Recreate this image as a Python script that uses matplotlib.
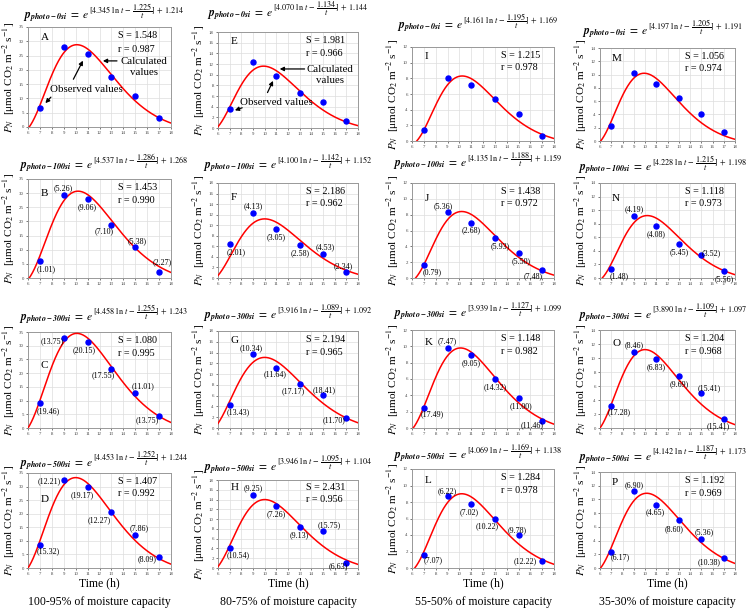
import numpy as np
import matplotlib
matplotlib.use('Agg')
import matplotlib.pyplot as plt
from matplotlib.transforms import IdentityTransform
from matplotlib.mathtext import MathTextParser

plt.rcParams['font.family'] = ['Liberation Serif', 'DejaVu Serif']
plt.rcParams['mathtext.fontset'] = 'stix'

# ---------------- data ----------------
hours = [7, 9, 11, 13, 15, 17]
panel_letters = ['A', 'B', 'C', 'D', 'E', 'F', 'G', 'H', 'I', 'J', 'K', 'L', 'M', 'N', 'O', 'P']
subscripts = ['0si', '100si', '300si', '500si'] * 4
coef_a = [4.345, 4.537, 4.458, 4.453, 4.070, 4.100, 3.916, 3.946,
          4.161, 4.135, 3.939, 4.069, 4.197, 4.228, 3.890, 4.142]
coef_b = [1.225, 1.286, 1.255, 1.252, 1.134, 1.142, 1.089, 1.095,
          1.195, 1.188, 1.127, 1.169, 1.205, 1.215, 1.109, 1.187]
coef_c = [1.214, 1.268, 1.243, 1.244, 1.144, 1.152, 1.092, 1.104,
          1.169, 1.159, 1.099, 1.138, 1.191, 1.198, 1.097, 1.173]
S_vals = [1.548, 1.453, 1.080, 1.407, 1.981, 2.186, 2.194, 2.431,
          1.215, 1.438, 1.148, 1.284, 1.056, 1.118, 1.204, 1.192]
r_vals = [0.987, 0.990, 0.995, 0.992, 0.966, 0.962, 0.965, 0.956,
          0.978, 0.972, 0.982, 0.978, 0.974, 0.973, 0.968, 0.969]
column_captions = ['100-95% of moisture capacity', '80-75% of moisture capacity',
                   '55-50% of moisture capacity', '35-30% of moisture capacity']
y_max_by_col = [35, 18, 12, 14]
y_step_by_col = [5, 2, 2, 2]

# observed PN values
obs_A = [6.8, 28.1, 25.5, 17.6, 10.9, 3.0]
obs_B = [5.9, 29.5, 27.8, 18.6, 11.0, 2.1]
obs_C = [9.2, 32.7, 31.4, 21.6, 12.9, 4.4]
obs_D = [8.6, 32.3, 29.8, 20.7, 12.3, 4.0]
obs_E = [3.5, 12.3, 9.8, 6.6, 4.9, 1.4]
obs_F = [6.4, 12.3, 9.3, 6.2, 4.6, 1.1]
obs_G = [4.2, 13.7, 11.1, 8.1, 6.1, 1.9]
obs_H = [4.1, 14.9, 12.6, 8.3, 7.6, 1.1]
obs_I = [1.4, 8.1, 7.2, 5.3, 3.5, 0.7]
obs_J = [1.6, 8.3, 7.0, 5.0, 3.1, 1.0]
obs_K = [2.5, 9.8, 8.9, 6.0, 3.7, 0.8]
obs_L = [1.6, 8.7, 7.8, 6.0, 4.0, 0.9]
obs_M = [2.2, 10.3, 8.6, 6.4, 4.1, 1.4]
obs_N = [1.3, 9.1, 7.6, 5.0, 3.4, 1.0]
obs_O = [3.2, 10.9, 9.9, 7.4, 5.0, 1.3]
obs_P = [2.3, 11.2, 9.2, 7.0, 4.3, 1.5]

# point labels (percent deviations)
lab_B = ['(1.01)', '(5.26)', '(9.06)', '(7.10)', '(5.38)', '(2.27)']
lab_C = ['(19.46)', '(13.75)', '(20.15)', '(17.55)', '(11.01)', '(13.75)']
lab_D = ['(15.32)', '(12.21)', '(19.17)', '(12.27)', '(7.86)', '(8.09)']
lab_F = ['(2.01)', '(4.13)', '(3.05)', '(2.58)', '(4.53)', '(2.34)']
lab_G = ['(13.43)', '(10.34)', '(11.64)', '(17.17)', '(18.41)', '(11.70)']
lab_H = ['(10.54)', '(9.25)', '(7.26)', '(9.13)', '(15.75)', '(6.63)']
lab_J = ['(0.79)', '(5.36)', '(2.68)', '(5.93)', '(5.50)', '(7.48)']
lab_K = ['(17.49)', '(7.47)', '(9.05)', '(14.32)', '(11.00)', '(11.46)']
lab_L = ['(7.07)', '(6.22)', '(7.02)', '(10.22)', '(9.78)', '(12.22)']
lab_N = ['(1.48)', '(4.19)', '(4.08)', '(5.45)', '(3.52)', '(5.56)']
lab_O = ['(17.28)', '(8.46)', '(6.83)', '(9.69)', '(15.41)', '(15.41)']
lab_P = ['(6.17)', '(6.90)', '(4.65)', '(8.60)', '(5.36)', '(10.38)']

# fitted-curve shape: zero crossing, peak time, peak value, tail
curve_tz = [6.1, 6.1, 6.0, 6.0, 5.9, 5.8, 5.7, 5.9, 6.4, 6.3, 6.1, 6.23, 6.06, 6.2, 6.0, 6.05]
curve_tp = [10.1, 10.2, 10.1, 10.0, 9.9, 10.0, 10.0, 10.0, 10.24, 10.2, 10.1, 10.2, 9.92, 10.2, 10.0, 10.15]
curve_yp = [28.8, 30.7, 34.5, 33.3, 11.6, 11.2, 13.1, 14.0, 8.3, 8.4, 9.8, 9.0, 10.2, 9.2, 11.2, 10.9]
curve_k = [3.5] * 16

observed = [obs_A, obs_B, obs_C, obs_D, obs_E, obs_F, obs_G, obs_H,
            obs_I, obs_J, obs_K, obs_L, obs_M, obs_N, obs_O, obs_P]
point_labels = [None, lab_B, lab_C, lab_D, None, lab_F, lab_G, lab_H,
                None, lab_J, lab_K, lab_L, None, lab_N, lab_O, lab_P]

# ---------------- layout (pixels) ----------------
W, H = 747, 609
col_x = [(28, 171), (218, 358), (412, 554), (600, 735)]
row_y = [[(27, 127), (179, 278), (332, 428), (473, 568)],
         [(32, 128), (183, 278), (331, 428), (480, 568)],
         [(47, 141), (183, 278), (330, 428), (469, 568)],
         [(48, 141), (183, 278), (330, 428), (472, 568)]]
title_y = [[19, 169, 320, 466], [16, 169, 319, 470], [29, 167, 317, 459], [35, 171, 318, 460]]
title_xc = [104, 288, 478, 663]
letter_y = [0.90, 0.85, 0.65, 0.72, 0.90, 0.85, 0.90, 0.91,
            0.90, 0.84, 0.87, 0.88, 0.89, 0.84, 0.86, 0.89]

lab_off = {
    'B': [(6, -8), (-1, 6), (0, -8), (-7, -6), (2, 6), (3, 10)],
    'C': [(8, -8), (-12, -3), (-3, -8), (-8, -6), (8, 6), (-12, -4)],
    'D': [(8, -7), (-15, -1), (-5, -8), (-12, -8), (4, 6), (-12, -2)],
    'F': [(6, -8), (0, 7), (0, -8), (0, -8), (2, 7), (-3, 6)],
    'G': [(9, -7), (-2, 6), (-1, -6), (-6, -7), (1, 5), (-12, -2)],
    'H': [(8, -7), (0, 7), (0, -8), (0, -8), (6, 6), (-8, -4)],
    'J': [(8, -7), (-4, 6), (0, -8), (5, -8), (3, -8), (-9, -6)],
    'K': [(8, -7), (0, 7), (0, -8), (0, -8), (2, -8), (-10, -4)],
    'L': [(9, -5), (0, 5), (-2, -9), (-8, -8), (-1, 5), (-17, -1)],
    'N': [(8, -7), (0, 7), (0, -8), (0, -8), (10, 2), (0, -8)],
    'O': [(8, -7), (0, 7), (0, -8), (0, -8), (8, 5), (-6, -7)],
    'P': [(9, -5), (0, 6), (-1, -7), (-5, -9), (3, 6), (-15, -4)],
}

try:
    MathTextParser('agg').parse(r'$\mathbfit{p}$', dpi=100)
    BFIT = r'\mathbfit'
except Exception:
    BFIT = r'\mathbf'


def model_curve(t, tz, tp, yp, k):
    s = (tp - tz) * 1.275
    t0 = tp - s
    u = np.clip((t - t0) / s, 1e-9, None)
    g = np.exp(k * (np.log(u) + 1 - u))
    uz = (tz - t0) / s
    gz = np.exp(k * (np.log(uz) + 1 - uz))
    A = yp / (1 - gz)
    return -A * gz + A * g


fig = plt.figure(figsize=(W / 100, H / 100), dpi=100)
renderer = fig.canvas.get_renderer()
idt = IdentityTransform()
RAISE = 5

for i, letter in enumerate(panel_letters):
    col, row = divmod(i, 4)
    x0, x1 = col_x[col]
    y0, y1 = row_y[col][row]
    ax = fig.add_axes([x0 / W, 1 - y1 / H, (x1 - x0) / W, (y1 - y0) / H])
    ymax = y_max_by_col[col]
    ax.set_xlim(6, 18)
    ax.set_ylim(0, ymax)
    ax.set_xticks(np.arange(6, 19, 1))
    ax.set_yticks(np.arange(0, ymax + 0.01, y_step_by_col[col]))
    ax.tick_params(labelsize=3.5, length=1.5, width=0.5, pad=1.5, colors='#444444')
    ax.grid(True, color='#dddddd', lw=0.5)
    ax.set_axisbelow(True)
    for sp in ax.spines.values():
        sp.set_color('#999999')
        sp.set_linewidth(0.7)

    tt = np.linspace(max(6.0, curve_tz[i]), 18, 300)
    ax.plot(tt, model_curve(tt, curve_tz[i], curve_tp[i], curve_yp[i], curve_k[i]),
            color='#ff0000', lw=1.1, zorder=3)
    ax.plot(hours, observed[i], 'o', color='#0000ff', ms=3.6, zorder=4)

    ax.text(0.09, letter_y[i], letter, transform=ax.transAxes, fontsize=8, va='center', ha='left')
    ax.text(0.63, 0.91, f'S = {S_vals[i]:.3f}', transform=ax.transAxes, fontsize=7.3, va='center')
    ax.text(0.63, 0.78, f'r = {r_vals[i]:.3f}', transform=ax.transAxes, fontsize=7.3, va='center')

    labs = point_labels[i]
    if labs is not None:
        for h, v, lab, off in zip(hours, observed[i], labs, lab_off[letter]):
            ax.annotate(lab, (h, v), xytext=off, textcoords='offset pixels',
                        fontsize=5.8, ha='center', va='center', zorder=5)

    ax.set_ylabel(r'$P_N$  [μmol CO$_2$ m$^{-2}$ s$^{-1}$]', fontsize=8, labelpad=1.5)
    if row == 3:
        ax.set_xlabel('Time (h)', fontsize=8.5, labelpad=1)
        fig.text((x0 + x1) / 2 / W, 1 - 602 / H, column_captions[col], fontsize=8.5,
                 ha='center', va='center')

    # title: base part + raised exponent
    base_y = H - title_y[col][row]
    base = r'$' + BFIT + r'{p}_{' + BFIT + r'{photo-' + subscripts[i] + r'}}\ =\ e$'
    expo = (r'$[' + f'{coef_a[i]:.3f}' + r'\ \ln\, t\,-\,\dfrac{' + f'{coef_b[i]:.3f}' +
            r'}{t}]\,+\,' + f'{coef_c[i]:.3f}' + r'$')
    t1 = fig.text(0, base_y, base, fontsize=8.3, ha='left', va='baseline', transform=idt)
    t2 = fig.text(0, base_y + RAISE, expo, fontsize=5.9, ha='left', va='baseline', transform=idt)
    w1 = t1.get_window_extent(renderer).width
    w2 = t2.get_window_extent(renderer).width
    left = title_xc[col] - (w1 + w2) / 2
    t1.set_position((left, base_y))
    t2.set_position((left + w1 - 0.5, base_y + RAISE))

    if letter in ('A', 'E'):
        if letter == 'A':
            calc_txt, calc_a, calc_b = (15.7, 0.60), (13.7, 0.661), (12.05, 0.661)
            obs_txt, o1a, o1b, o2a, o2b = (10.86, 0.376), (9.7, 0.453), (10.72, 0.688), (8.08, 0.319), (7.3, 0.218)
        else:
            calc_txt, calc_a, calc_b = (15.6, 0.55), (13.66, 0.615), (11.05, 0.615)
            obs_txt, o1a, o1b, o2a, o2b = (10.99, 0.266), (10.14, 0.343), (10.82, 0.517), (8.3, 0.22), (7.22, 0.175)
        tr = ax.get_xaxis_transform()
        ax.text(calc_txt[0], calc_txt[1], 'Calculated\nvalues', transform=tr, fontsize=7.8,
                ha='center', va='center', linespacing=1.2)
        ax.text(obs_txt[0], obs_txt[1], 'Observed values', transform=tr, fontsize=7.8,
                ha='center', va='center')
        ap = dict(arrowstyle='-|>', color='black', lw=0.9, mutation_scale=6)
        for a, b in [(calc_a, calc_b), (o1a, o1b), (o2a, o2b)]:
            ax.annotate('', xy=b, xytext=a, xycoords=tr, textcoords=tr, arrowprops=ap)

fig.savefig('out.png', dpi=100)
